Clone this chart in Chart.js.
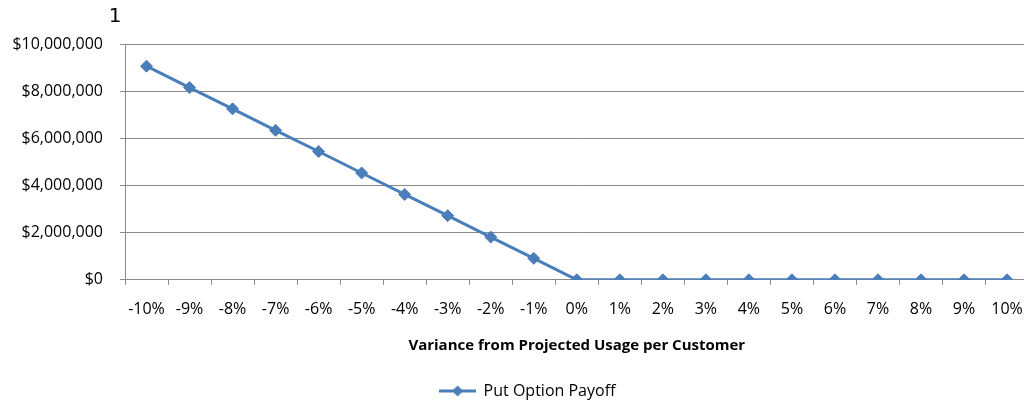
<!DOCTYPE html>
<html>
<head>
<meta charset="utf-8">
<script src="https://cdn.jsdelivr.net/npm/chart.js@4"></script>
<style>
  html, body { margin: 0; padding: 0; overflow: hidden; background: #fff; }
  #wrap { width: 1038px; height: 407px; position: relative; }
</style>
</head>
<body>
<div id="wrap"><canvas id="c"></canvas></div>
<script>
// Usage variance buckets and the put option payoff at each
const categories = ['-10%', '-9%', '-8%', '-7%', '-6%', '-5%', '-4%', '-3%', '-2%', '-1%',
                    '0%', '1%', '2%', '3%', '4%', '5%', '6%', '7%', '8%', '9%', '10%'];
const putPayoff = [9060000, 8150000, 7250000, 6340000, 5440000, 4530000, 3620000, 2720000, 1810000, 910000,
                   0, 0, 0, 0, 0, 0, 0, 0, 0, 0, 0];
const seriesName = 'Put Option Payoff';
const xAxisTitle = 'Variance from Projected Usage per Customer';
const yMin = 0, yMax = 10000000, yStep = 2000000;
const chartLabel = '1';

const BLUE = '#4A7EBB';
const GRID = '#8A8A8A';
const FONT = '"Open Sans", "DejaVu Sans", sans-serif';

// Legend swatch: short line with a diamond marker in the middle
function legendSwatch() {
  const c = document.createElement('canvas');
  c.width = 37; c.height = 12;
  const g = c.getContext('2d');
  g.strokeStyle = BLUE; g.lineWidth = 3;
  g.beginPath(); g.moveTo(0, 6); g.lineTo(37, 6); g.stroke();
  g.fillStyle = BLUE;
  g.beginPath(); g.moveTo(19, 0.5); g.lineTo(24.5, 6); g.lineTo(19, 11.5); g.lineTo(13.5, 6); g.closePath(); g.fill();
  return c;
}
const swatch = legendSwatch();

// Small label drawn above the value axis, plus a slight shift of the legend row
const cornerLabel = {
  id: 'cornerLabel',
  afterLayout(chart) {
    if (chart.legend) {
      chart.legend.left += 16;
      chart.legend.top += 2;
      chart.legend.bottom += 2;
    }
  },
  afterDraw(chart) {
    const ctx = chart.ctx;
    ctx.save();
    ctx.font = '20px "DejaVu Sans", sans-serif';
    ctx.fillStyle = '#000';
    ctx.textAlign = 'center';
    ctx.textBaseline = 'middle';
    ctx.fillText(chartLabel, chart.chartArea.left - 10, 17);
    ctx.restore();
  }
};

new Chart(document.getElementById('c'), {
  type: 'line',
  data: {
    labels: categories,
    datasets: [{
      label: seriesName,
      data: putPayoff,
      borderColor: BLUE,
      backgroundColor: BLUE,
      borderWidth: 3,
      pointStyle: 'rectRot',
      pointRadius: 6,
      pointBorderWidth: 1,
      pointBackgroundColor: BLUE,
      pointBorderColor: BLUE,
      tension: 0
    }]
  },
  options: {
    responsive: true,
    maintainAspectRatio: false,
    animation: false,
    layout: { padding: { top: 44, left: 0, right: 0, bottom: 0 } },
    plugins: {
      tooltip: { enabled: false },
      legend: {
        position: 'bottom',
        labels: {
          usePointStyle: true,
          pointStyleWidth: 37,
          color: '#000',
          font: { family: FONT, size: 16 },
          padding: 5,
          generateLabels(chart) {
            return chart.data.datasets.map((ds, i) => ({
              text: ds.label,
              pointStyle: swatch,
              fillStyle: BLUE,
              strokeStyle: BLUE,
              lineWidth: 0,
              hidden: false,
              datasetIndex: i
            }));
          }
        }
      }
    },
    scales: {
      x: {
        offset: true,
        grid: { offset: true, drawOnChartArea: false, color: GRID, tickLength: 5 },
        border: { color: GRID },
        ticks: { color: '#000', font: { family: FONT, size: 16 }, padding: 15, maxRotation: 0, autoSkip: false },
        title: {
          display: true,
          text: xAxisTitle,
          color: '#000',
          font: { family: FONT, size: 15, weight: 'bold' },
          padding: { top: 3, bottom: 21 }
        }
      },
      y: {
        min: yMin,
        max: yMax,
        grid: { color: GRID, tickLength: 5 },
        border: { color: GRID },
        ticks: {
          stepSize: yStep,
          color: '#000',
          font: { family: FONT, size: 16 },
          padding: 17,
          callback: v => '$' + Number(v).toLocaleString('en-US')
        },
        afterFit(scale) { scale.width = 125; }
      }
    }
  },
  plugins: [cornerLabel]
});
</script>
</body>
</html>
